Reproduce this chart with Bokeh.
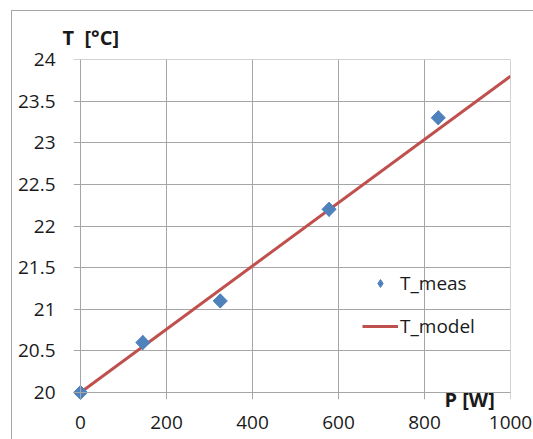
import math
from bokeh.plotting import figure
from bokeh.models import (Range1d, Legend, LegendItem, FixedTicker, LinearAxis,
                          Grid, CustomJSTickFormatter, ColumnDataSource, Span)
from bokeh.embed import file_html
from bokeh.resources import INLINE

# ---- data ----
p_meas = [0, 145, 325, 578, 832]
t_meas = [20.0, 20.6, 21.1, 22.2, 23.3]
p_model = [0, 1000]
t_model = [20.0, 23.8]
x_ticks = [0, 200, 400, 600, 800, 1000]
y_ticks = [20, 20.5, 21, 21.5, 22, 22.5, 23, 23.5, 24]
x_title = "P [W]"
y_title = "T  [°C]"
meas_name = "T_meas"
model_name = "T_model"

FONT = "Open Sans"
GRID = "#a6a6a6"
BLUE = "#4f81bd"
RED = "#c0504d"
TXT = "#1a1a1a"
NBSP = "\u00a0"

# layout (pixels)
W, H = 533, 439
PAD = 7                      # gridline overhang used as tick marks
XPIX, YPIX = 430, 333        # pixel span of 0..1000 and 20..24
x0, x1 = x_ticks[0], x_ticks[-1]
y0, y1 = y_ticks[0], y_ticks[-1]
xr = Range1d(x0 - PAD * (x1 - x0) / XPIX, x1)
yr = Range1d(y0 - PAD * (y1 - y0) / YPIX, y1)
X_TITLE_AT = 905             # where the x-axis title is centred (axis units)

# outer chart border (top/left edges visible) drawn behind the canvas
border_css = ("linear-gradient(#a6a6a6,#a6a6a6) 11px 10px / 1px 100% no-repeat, "
              "linear-gradient(#a6a6a6,#a6a6a6) 11px 10px / 100% 1px no-repeat, "
              "white")

p = figure(width=W, height=H, output_backend="svg", toolbar_location=None,
           x_range=xr, y_range=yr, x_axis_location=None,
           min_border_left=73, min_border_right=23, min_border_top=59,
           min_border_bottom=40,
           styles={"background": border_css})
p.outline_line_color = None
p.background_fill_color = "white"
p.border_fill_color = None


def style_axis(ax, size="19px", bold=False):
    ax.axis_line_color = None
    ax.major_tick_line_color = None
    ax.minor_tick_line_color = None
    ax.major_tick_in = 0
    ax.major_tick_out = 0
    ax.major_label_text_font = FONT
    ax.major_label_text_font_size = size
    ax.major_label_text_color = TXT
    if bold:
        ax.major_label_text_font_style = "bold"


# x-axis title: one labelled position, right under the axis line
ax_title = LinearAxis(ticker=FixedTicker(ticks=[X_TITLE_AT]),
                      major_label_overrides={X_TITLE_AT: x_title})
style_axis(ax_title, "20px", bold=True)
ax_title.major_label_standoff = -14
p.add_layout(ax_title, "below")

# x tick labels
ax_x = LinearAxis(ticker=FixedTicker(ticks=x_ticks),
                  formatter=CustomJSTickFormatter(code="return tick.toString();"))
style_axis(ax_x)
ax_x.major_label_standoff = 0
p.add_layout(ax_x, "below")

ay = p.yaxis[0]
style_axis(ay)
ay.ticker = FixedTicker(ticks=y_ticks)
ay.formatter = CustomJSTickFormatter(code="return tick.toString();")
ay.major_label_standoff = 18

# y axis title at top left
p.title.text = y_title.replace("  ", NBSP + " ")
p.title.align = "left"
p.title.offset = -11
p.title.standoff = 18
p.title.text_font = FONT
p.title.text_font_size = "20px"
p.title.text_font_style = "bold"
p.title.text_color = TXT

p.add_layout(Grid(dimension=0, ticker=FixedTicker(ticks=x_ticks),
                  grid_line_color=GRID))
p.ygrid.grid_line_color = GRID
p.ygrid.ticker = FixedTicker(ticks=y_ticks)

# axis lines and frame edges
for loc, dim in ((x0, "height"), (x1, "height"), (y0, "width"), (y1, "width")):
    p.add_layout(Span(location=loc, dimension=dim, line_color=GRID,
                      line_width=1))

src_meas = ColumnDataSource(dict(x=p_meas, y=t_meas))
src_model = ColumnDataSource(dict(x=p_model, y=t_model))

r_model = p.line("x", "y", source=src_model, line_color=RED, line_width=3)
# diamond layer (used for the legend swatch), covered by the rotated squares
r_leg = p.scatter("x", "y", source=src_meas, marker="diamond", size=14,
                  fill_color=BLUE, line_color=BLUE)
r_meas = p.scatter("x", "y", source=src_meas, marker="square", size=10,
                   angle=math.pi / 4, fill_color=BLUE, line_color=BLUE)

legend = Legend(items=[LegendItem(label=meas_name, renderers=[r_leg]),
                       LegendItem(label=model_name, renderers=[r_model])],
                location=(289, 60), padding=0, margin=0, spacing=17,
                glyph_width=36, glyph_height=20, label_height=20,
                label_standoff=2,
                label_text_font=FONT, label_text_font_size="19px",
                label_text_color=TXT,
                background_fill_alpha=0, border_line_alpha=0)
p.add_layout(legend, "center")

open("out.html", "w").write(file_html(p, INLINE))
